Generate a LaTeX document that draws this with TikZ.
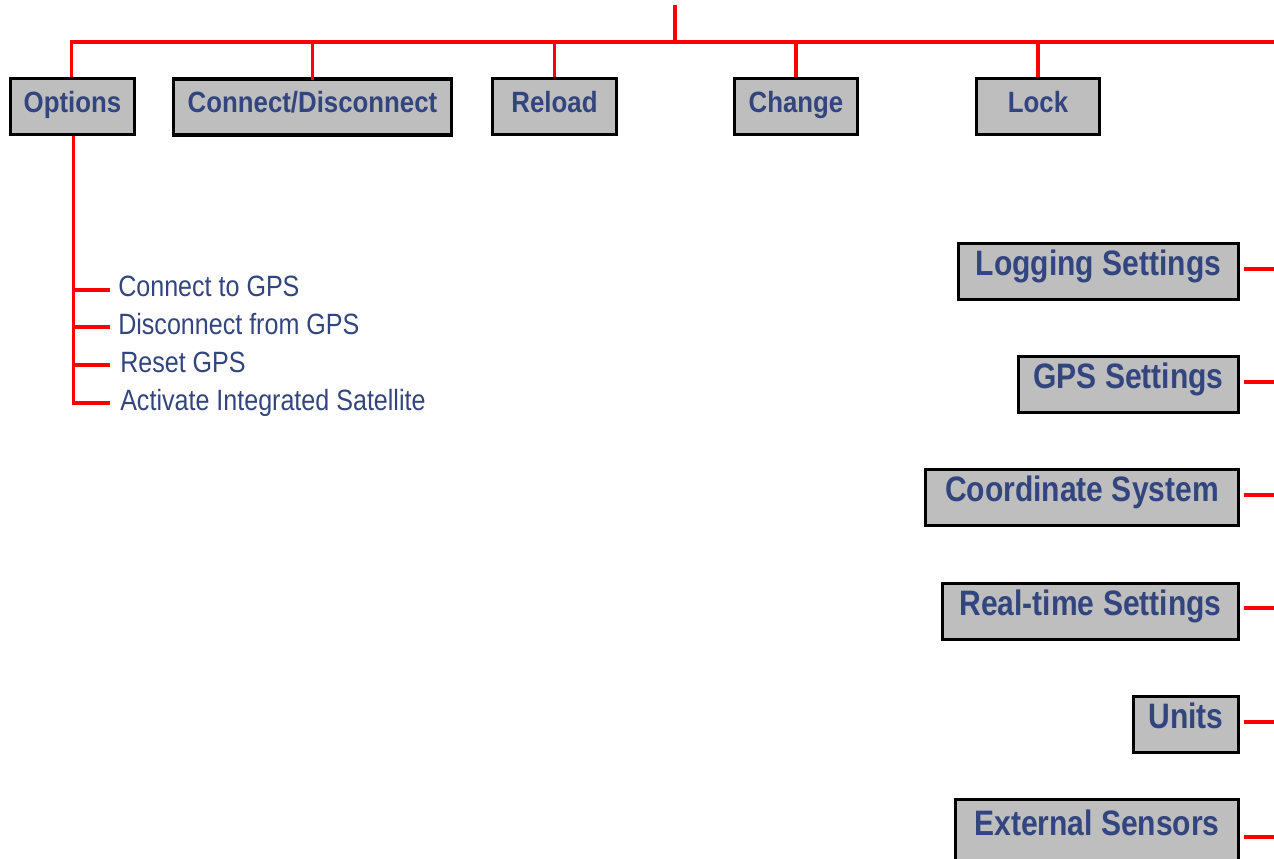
\documentclass[tikz,border=0pt]{standalone}
\usepackage{fontspec}
\newfontfamily\tfont[FakeStretch=0.88]{Liberation Sans}
\newfontfamily\rfont[FakeStretch=0.85]{Liberation Sans}
\newfontfamily\sfont[FakeStretch=0.855]{Liberation Sans}
\definecolor{txtblue}{RGB}{51,69,126}
\definecolor{boxgray}{RGB}{190,190,190}
\definecolor{linered}{RGB}{255,0,0}
\tikzset{
  boxbase/.style={draw=black, line width=2.6pt, fill=boxgray, inner sep=0pt, align=center, text=txtblue, anchor=base},
  topbox/.style={boxbase, text height=25.1pt, text depth=16.9pt, font=\tfont\bfseries\fontsize{22pt}{26pt}\selectfont},
  rightbox/.style={boxbase, text height=24pt, text depth=18pt, font=\rfont\bfseries\fontsize{26.5pt}{30pt}\selectfont},
  subitem/.style={anchor=base west, inner sep=0pt, text=txtblue, font=\sfont\fontsize{22pt}{26pt}\selectfont},
  wire/.style={draw=linered, line width=2.3pt}
}
\begin{document}
\begin{tikzpicture}[x=0.75pt,y=-0.75pt]
\useasboundingbox (0,0) rectangle (1274,858);
% top row boxes
\node[topbox, minimum width=93pt] (opt) at (72.5,112) {Options};
\node[topbox, minimum width=208.5pt] (con) at (312.5,112.5) {Connect/Disconnect};
\node[topbox, minimum width=93pt] (rel) at (554.5,112) {Reload};
\node[topbox, minimum width=92.25pt] (chg) at (796,112) {Change};
\node[topbox, minimum width=92.25pt] (lck) at (1038,112) {Lock};
% right column boxes
\node[rightbox, minimum width=210pt] (log) at (1098.5,275.5) {Logging Settings};
\node[rightbox, minimum width=165pt] (gps) at (1128.5,388.5) {GPS Settings};
\node[rightbox, minimum width=234.75pt] (crd) at (1082,501.5) {Coordinate System};
\node[rightbox, minimum width=222pt] (rts) at (1090.5,615.5) {Real-time Settings};
\node[rightbox, minimum width=78.75pt] (uni) at (1186,728.5) {Units};
\node[rightbox, minimum width=212.25pt, text height=26.6pt, text depth=21pt] (ext) at (1097,835) {External Sensors};
% sub items
\node[subitem] (s1) at (118,296) {Connect to GPS};
\node[subitem] (s2) at (118,334) {Disconnect from GPS};
\node[subitem] (s3) at (120,372.5) {Reset GPS};
\node[subitem] (s4) at (120,410) {Activate Integrated Satellite};
% coordinates
\coordinate (top) at (675,5);
\coordinate (bus) at (1280,42);
\coordinate (topend) at (675,44);
\coordinate (subend) at (73,403);
\coordinate (b1) at (110,290);
\coordinate (b2) at (110,327);
\coordinate (b3) at (110,365);
\coordinate (b4) at (110,403);
\coordinate (eLog) at (1280,269);
\coordinate (eGps) at (1280,382);
\coordinate (eCrd) at (1280,495);
\coordinate (eRts) at (1280,608);
\coordinate (eUni) at (1280,722);
\coordinate (eExt) at (1280,837);
% top tree
\draw[wire] (top) -- (topend);
\draw[wire] ([xshift=-0.75pt]opt.north) |- (bus);
\draw[wire] (con.north |- bus) -- ([yshift=-2pt]con.north);
\draw[wire] (rel.north |- bus) -- (rel.north);
\draw[wire] (chg.north |- bus) -- (chg.north);
\draw[wire] (lck.north |- bus) -- (lck.north);
% options subtree
\draw[wire] ([xshift=0.4pt]opt.south) -- ([xshift=0.4pt]opt.south |- subend) -- (b4);
\draw[wire] ([xshift=0.4pt]opt.south |- b1) -- (b1);
\draw[wire] ([xshift=0.4pt]opt.south |- b2) -- (b2);
\draw[wire] ([xshift=0.4pt]opt.south |- b3) -- (b3);
% right connectors
\draw[wire] ([xshift=2.5pt]log.east |- eLog) -- (eLog);
\draw[wire] ([xshift=2.5pt]gps.east |- eGps) -- (eGps);
\draw[wire] ([xshift=2.5pt]crd.east |- eCrd) -- (eCrd);
\draw[wire] ([xshift=2.5pt]rts.east |- eRts) -- (eRts);
\draw[wire] ([xshift=2.5pt]uni.east |- eUni) -- (eUni);
\draw[wire] ([xshift=2.5pt]ext.east |- eExt) -- (eExt);
\end{tikzpicture}
\end{document}
